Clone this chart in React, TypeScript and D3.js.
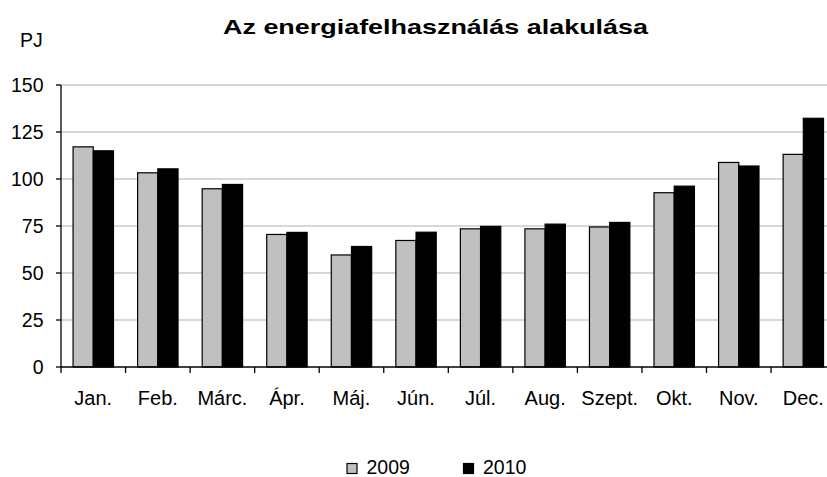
import React from "react";
import * as d3 from "d3";

const months = ["Jan.", "Feb.", "Márc.", "Ápr.", "Máj.", "Jún.", "Júl.", "Aug.", "Szept.", "Okt.", "Nov.", "Dec."];
const series2009 = [117.1, 103.3, 94.8, 70.5, 59.6, 67.3, 73.5, 73.5, 74.5, 92.7, 108.8, 113.1];
const series2010 = [115.0, 105.4, 97.1, 71.6, 64.1, 71.7, 74.8, 76.0, 76.9, 96.2, 106.9, 132.3];
const seriesNames = ["2009", "2010"];
const seriesColors = ["#C0C0C0", "#000000"];
const yTicks = [0, 25, 50, 75, 100, 125, 150];
const title = "Az energiafelhasználás alakulása";
const unitLabel = "PJ";

const W = 827;
const H = 477;
const FONT = "'Liberation Sans', Arial, sans-serif";

export default function App() {
  const left = 61;
  const step = 64.55;
  const right = left + step * months.length;
  const top = 85;
  const bottom = 367;

  const x = d3.scaleBand<string>().domain(months).range([left, right]).paddingInner(0.374).paddingOuter(0.187);
  const xs = d3.scaleBand<string>().domain(seriesNames).range([0, x.bandwidth()]).padding(0);
  const y = d3.scaleLinear().domain([0, 150]).range([bottom, top]);
  const data = [series2009, series2010];

  return (
    <svg width={W} height={H} style={{ position: "absolute", left: 0, top: 0, background: "#fff" }} fontFamily={FONT}>
      <rect x={0} y={0} width={W} height={H} fill="#fff" />
      <text x={435.5} y={33.5} textAnchor="middle" fontSize={21} fontWeight="bold" textLength={425} lengthAdjust="spacingAndGlyphs">
        {title}
      </text>
      <text x={20} y={47} fontSize={19.5}>{unitLabel}</text>

      {yTicks.map((t) => (
        <g key={t}>
          {t > 0 && <line x1={left} x2={right} y1={y(t)} y2={y(t)} stroke="#B0B0B0" strokeWidth={1.2} />}
          <line x1={left - 5} x2={left} y1={y(t)} y2={y(t)} stroke="#000" strokeWidth={1.3} />
          <text x={43.5} y={y(t) + 6.7} textAnchor="end" fontSize={19.5}>{t}</text>
        </g>
      ))}

      {months.map((m, i) => (
        <g key={m}>
          {data.map((s, j) => (
            <rect
              key={j}
              x={(x(m) as number) + (xs(seriesNames[j]) as number)}
              y={y(s[i])}
              width={xs.bandwidth()}
              height={bottom - y(s[i])}
              fill={seriesColors[j]}
              stroke="#000"
              strokeWidth={1.2}
            />
          ))}
          <text x={(x(m) as number) + x.bandwidth() / 2} y={405} textAnchor="middle" fontSize={20}>{m}</text>
        </g>
      ))}

      {d3.range(months.length + 1).map((k) => (
        <line key={k} x1={left + k * x.step()} x2={left + k * x.step()} y1={bottom} y2={bottom + 6} stroke="#000" strokeWidth={1.3} />
      ))}
      <line x1={left} x2={left} y1={top} y2={bottom} stroke="#000" strokeWidth={1.3} />
      <line x1={left} x2={right} y1={bottom} y2={bottom} stroke="#000" strokeWidth={1.3} />

      {seriesNames.map((n, j) => {
        const lx = j === 0 ? 347 : 463.5;
        return (
          <g key={n}>
            <rect x={lx} y={463.5} width={10} height={10} fill={seriesColors[j]} stroke="#000" strokeWidth={1.2} />
            <text x={lx + 19.5} y={473.5} fontSize={19.5}>{n}</text>
          </g>
        );
      })}
    </svg>
  );
}
